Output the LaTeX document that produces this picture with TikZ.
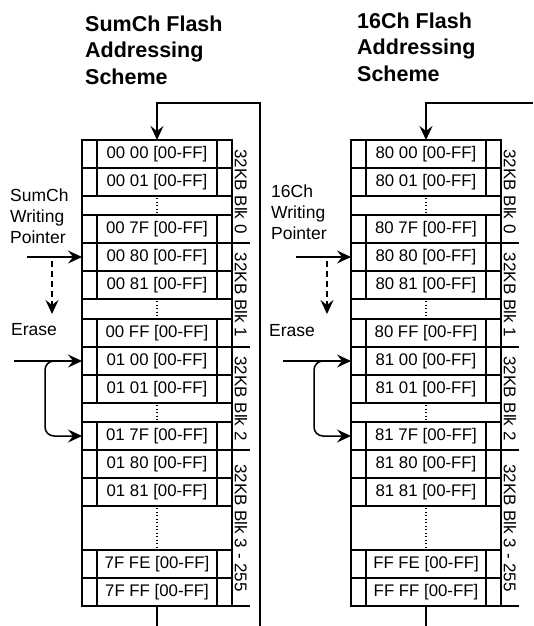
\documentclass[tikz,border=0pt]{standalone}
\usepackage{fontspec}
\setmainfont{Liberation Sans}
\usetikzlibrary{arrows.meta}

\tikzset{
  cellbox/.style={draw, line width=1.5pt, minimum width=150pt, minimum height=28pt, inner sep=0pt, outer sep=0pt, anchor=north west, font=\fontsize{16.8}{19}\selectfont},
  gapbox/.style={draw, line width=1.5pt, minimum width=150pt, inner sep=0pt, outer sep=0pt, anchor=north west},
  cellline/.style={line width=1.5pt},
  dots/.style={line width=1.3pt, dash pattern=on 1.2pt off 2.3pt},
  flow/.style={line width=1.5pt, -{Stealth[length=14pt, width=13pt, inset=5pt]}},
  blklabel/.style={rotate=-90, inner sep=0pt, font=\fontsize{17}{19}\selectfont},
  sidelabel/.style={align=left, anchor=west, inner sep=0pt, font=\fontsize{17.5}{21}\selectfont},
  title/.style={align=left, anchor=west, inner sep=0pt, font=\fontsize{21.5}{26.5}\selectfont\bfseries},
}

\begin{document}
\begin{tikzpicture}[x=1pt, y=-1pt]
    \useasboundingbox (0,0) rectangle (533,626);

    % SumCh column
    \begin{scope}
        \foreach \n/\y/\txt in {1/140/00 00, 2/168/00 01, 3/215/00 7F, 4/243/00 80, 5/271/00 81, 6/319/00 FF, 7/347/01 00, 8/375/01 01, 9/422/01 7F, 10/450/01 80, 11/478/01 81, 12/550/7F FE, 13/578/7F FF} {
            \node[cellbox] (L\n) at (82,\y) {\txt\ [00-FF]};
            \draw[cellline] ([xshift=15pt]L\n.north west) -- ([xshift=15pt]L\n.south west)
                            ([xshift=-15pt]L\n.north east) -- ([xshift=-15pt]L\n.south east);
        }
        \foreach \n/\y/\h in {1/196/19, 2/299/20, 3/403/19, 4/506/44} {
            \node[gapbox, minimum height=\h pt] (Lg\n) at (82,\y) {};
            \draw[dots] ([yshift=-2pt]Lg\n.north) -- ([yshift=2pt]Lg\n.south);
        }
        \node[blklabel] (Lb0) at (241,191.5) {32KB Blk 0};
        \node[blklabel] (Lb1) at (241,295) {32KB Blk 1};
        \node[blklabel] (Lb2) at (241,398.5) {32KB Blk 2};
        \node[blklabel] (Lb3) at (241,528) {32KB Blk 3 - 255};
        \draw[cellline] (L4.north east) -- ++(18,0);
        \draw[cellline] (L7.north east) -- ++(18,0);
        \draw[cellline] (L10.north east) -- ++(18,0);
        \draw[cellline] (L13.south east) -- ++(18,0);
        % wrap-around
        \coordinate (Lret) at (260,103);
        \coordinate (Lend) at (260,626);
        \draw[flow] (Lend) -- (Lret) -| (L1.north);
        \draw[cellline] (L13.south) -- ++(0,20);
    \end{scope}

    % 16Ch column
    \begin{scope}[xshift=269pt]
        \foreach \n/\y/\txt in {1/140/80 00, 2/168/80 01, 3/215/80 7F, 4/243/80 80, 5/271/80 81, 6/319/80 FF, 7/347/81 00, 8/375/81 01, 9/422/81 7F, 10/450/81 80, 11/478/81 81, 12/550/FF FE, 13/578/FF FF} {
            \node[cellbox] (R\n) at (82,\y) {\txt\ [00-FF]};
            \draw[cellline] ([xshift=15pt]R\n.north west) -- ([xshift=15pt]R\n.south west)
                            ([xshift=-15pt]R\n.north east) -- ([xshift=-15pt]R\n.south east);
        }
        \foreach \n/\y/\h in {1/196/19, 2/299/20, 3/403/19, 4/506/44} {
            \node[gapbox, minimum height=\h pt] (Rg\n) at (82,\y) {};
            \draw[dots] ([yshift=-2pt]Rg\n.north) -- ([yshift=2pt]Rg\n.south);
        }
        \node[blklabel] (Rb0) at (241,191.5) {32KB Blk 0};
        \node[blklabel] (Rb1) at (241,295) {32KB Blk 1};
        \node[blklabel] (Rb2) at (241,398.5) {32KB Blk 2};
        \node[blklabel] (Rb3) at (241,528) {32KB Blk 3 - 255};
        \draw[cellline] (R4.north east) -- ++(18,0);
        \draw[cellline] (R7.north east) -- ++(18,0);
        \draw[cellline] (R10.north east) -- ++(18,0);
        \draw[cellline] (R13.south east) -- ++(18,0);
        \draw[cellline] (R13.south) -- ++(0,20);
    \end{scope}
    \coordinate (Rret) at (533,103);
    \draw[flow] (Rret) -| (R1.north);

    % titles
    \node[title] (Ltitle) at (85,50) {SumCh Flash\\Addressing\\Scheme};
    \node[title] (Rtitle) at (357,47) {16Ch Flash\\Addressing\\Scheme};

    % SumCh pointer and erase
    \node[sidelabel] (Lptrlabel) at (10,216) {SumCh\\Writing\\Pointer};
    \coordinate (Lptr) at (27,257);
    \draw[flow] (Lptr) -- (L4.west);
    \coordinate (Ldtop) at (52,261);
    \coordinate (Ldbot) at (52,314);
    \draw[flow, dash pattern=on 6pt off 4pt] (Ldtop) -- (Ldbot);
    \node[sidelabel] (Lerase) at (11,330) {Erase};
    \coordinate (Lers) at (14,361);
    \draw[flow] (Lers) -- (L7.west);
    \coordinate (Lcurl) at (65,361);
    \draw[flow, rounded corners=9pt] (Lcurl) -- ++(-20,0) |- (L9.west);

    % 16Ch pointer and erase
    \node[sidelabel] (Rptrlabel) at (271,212) {16Ch\\Writing\\Pointer};
    \coordinate (Rptr) at (296,257);
    \draw[flow] (Rptr) -- (R4.west);
    \coordinate (Rdtop) at (327,261);
    \coordinate (Rdbot) at (327,314);
    \draw[flow, dash pattern=on 6pt off 4pt] (Rdtop) -- (Rdbot);
    \node[sidelabel] (Rerase) at (269,331) {Erase};
    \coordinate (Rers) at (283,361);
    \draw[flow] (Rers) -- (R7.west);
    \coordinate (Rcurl) at (334,361);
    \draw[flow, rounded corners=9pt] (Rcurl) -- ++(-20,0) |- (R9.west);
\end{tikzpicture}
\end{document}
